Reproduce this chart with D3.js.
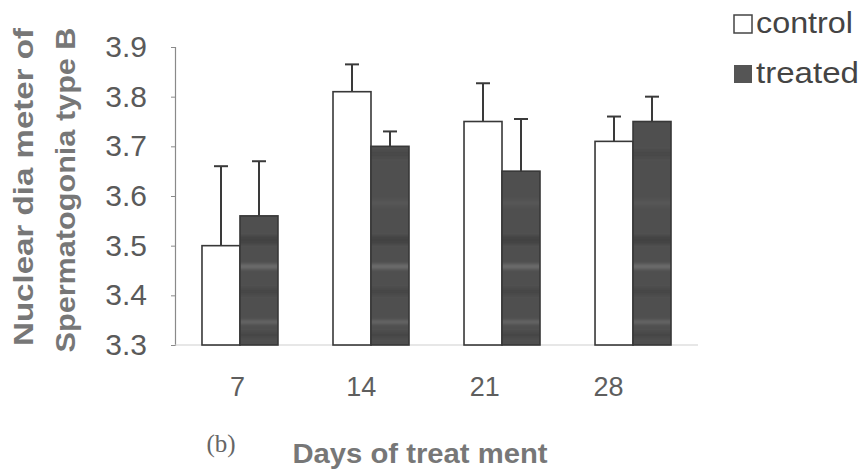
<!DOCTYPE html>
<html>
<head>
<meta charset="utf-8">
<script src="https://cdn.jsdelivr.net/npm/d3@7"></script>
<style>
  html, body { margin: 0; padding: 0; background: #ffffff; }
  svg { display: block; }
</style>
</head>
<body>
<svg id="chart" width="865" height="470"></svg>
<script>
// Nuclear diameter of spermatogonia type B over days of treatment
const days = ["7", "14", "21", "28"];
const controlMean = [3.50, 3.81, 3.75, 3.71];
const controlErr  = [0.16, 0.055, 0.077, 0.05];
const treatedMean = [3.56, 3.70, 3.65, 3.75];
const treatedErr  = [0.11, 0.03, 0.105, 0.05];
const yTicks = [3.3, 3.4, 3.5, 3.6, 3.7, 3.8, 3.9];
const seriesNames = ["control", "treated"];

const series = [
  { name: "control", mean: controlMean, err: controlErr, fill: "#ffffff" },
  { name: "treated", mean: treatedMean, err: treatedErr, fill: "url(#shade)" }
];

const svg = d3.select("#chart");
const font = "Arial, 'Liberation Sans', Helvetica, sans-serif";

// dark print tone with soft horizontal banding
const defs = svg.append("defs");
defs.append("filter").attr("id", "soft")
  .attr("x", "-5%").attr("y", "-5%").attr("width", "110%").attr("height", "110%")
  .append("feGaussianBlur").attr("stdDeviation", 1.6);
const pat = defs.append("pattern").attr("id", "shade")
  .attr("patternUnits", "userSpaceOnUse")
  .attr("x", 0).attr("y", 0).attr("width", 865).attr("height", 470);
pat.append("rect").attr("width", 865).attr("height", 470).attr("fill", "#4f4f4f");
const bands = pat.append("g").attr("filter", "url(#soft)");
[[150, 8, "#484848"], [200, 6, "#575757"], [236, 8, "#434343"], [264, 5, "#6c6c6c"],
 [288, 7, "#474747"], [320, 4, "#656565"], [332, 6, "#474747"]].forEach(([yy, h, c]) => {
  bands.append("rect").attr("x", -10).attr("y", yy).attr("width", 885).attr("height", h).attr("fill", c);
});

const y = d3.scaleLinear().domain([3.3, 3.9]).range([345, 47]);
const x0 = d3.scaleBand().domain(days).range([175, 698])
  .paddingInner(0.42).paddingOuter(0.206);
const x1 = d3.scaleBand().domain(seriesNames).range([0, x0.bandwidth()]);
// category labels sit on their own spacing under the groups
const xLab = d3.scalePoint().domain(days).range([237, 608]);

// y axis
const yAxis = d3.axisLeft(y).tickValues(yTicks).tickFormat(d3.format(".1f"))
  .tickSize(4).tickPadding(24);
const gy = svg.append("g").attr("transform", "translate(175,0)").call(yAxis);
gy.select(".domain").attr("stroke", "#8a8a8a").attr("stroke-width", 1.2);
gy.selectAll(".tick line").attr("stroke", "#8a8a8a");
gy.selectAll(".tick text").attr("fill", "#5a5a5a").attr("font-size", 30)
  .attr("font-family", font);

// faint baseline
svg.append("line")
  .attr("x1", 175).attr("x2", 698)
  .attr("y1", y(3.3)).attr("y2", y(3.3))
  .attr("stroke", "#cfcfcf").attr("stroke-width", 1);

// x category labels
const xAxis = d3.axisBottom(xLab).tickSize(0).tickPadding(0);
const gx = svg.append("g").attr("transform", "translate(0,377)").call(xAxis);
gx.select(".domain").remove();
gx.selectAll(".tick text").attr("fill", "#5e5e5e").attr("font-size", 27)
  .attr("font-family", font);

// bars
const groups = svg.append("g").selectAll("g").data(series).join("g");
groups.selectAll("rect")
  .data(s => days.map((d, i) => ({ day: d, v: s.mean[i], e: s.err[i], s })))
  .join("rect")
  .attr("x", d => x0(d.day) + x1(d.s.name))
  .attr("width", x1.bandwidth())
  .attr("y", d => y(d.v))
  .attr("height", d => y(3.3) - y(d.v))
  .attr("fill", d => d.s.fill)
  .attr("stroke", "#383838")
  .attr("stroke-width", 1.6);

// error bars (upper only)
const eb = svg.append("g").attr("stroke", "#3a3a3a").attr("stroke-width", 2);
series.forEach(s => {
  days.forEach((d, i) => {
    const cx = x0(d) + x1(s.name) + x1.bandwidth() / 2;
    eb.append("line").attr("x1", cx).attr("x2", cx)
      .attr("y1", y(s.mean[i])).attr("y2", y(s.mean[i] + s.err[i]));
    eb.append("line").attr("x1", cx - 7).attr("x2", cx + 7)
      .attr("y1", y(s.mean[i] + s.err[i])).attr("y2", y(s.mean[i] + s.err[i]));
  });
});

// axis titles
svg.append("text")
  .attr("transform", "translate(33,187) rotate(-90)")
  .attr("text-anchor", "middle")
  .attr("font-family", font).attr("font-weight", "bold")
  .attr("font-size", 28).attr("fill", "#777")
  .attr("textLength", 318).attr("lengthAdjust", "spacingAndGlyphs")
  .text("Nuclear dia meter of");
svg.append("text")
  .attr("transform", "translate(75,190) rotate(-90)")
  .attr("text-anchor", "middle")
  .attr("font-family", font).attr("font-weight", "bold")
  .attr("font-size", 28).attr("fill", "#777")
  .attr("textLength", 325).attr("lengthAdjust", "spacingAndGlyphs")
  .text("Spermatogonia type B");

svg.append("text")
  .attr("x", 420).attr("y", 463)
  .attr("text-anchor", "middle")
  .attr("font-family", font).attr("font-weight", "bold")
  .attr("font-size", 28).attr("fill", "#777")
  .attr("textLength", 255).attr("lengthAdjust", "spacingAndGlyphs")
  .text("Days of treat ment");

svg.append("text")
  .attr("x", 221).attr("y", 452)
  .attr("text-anchor", "middle")
  .attr("font-family", "'Liberation Serif', 'DejaVu Serif', serif")
  .attr("font-size", 25).attr("fill", "#666")
  .text("(b)");

// legend
const legend = svg.append("g");
series.forEach((s, i) => {
  const ly = 15 + i * 50;
  legend.append("rect")
    .attr("x", 734).attr("y", ly)
    .attr("width", 18).attr("height", 18)
    .attr("fill", s.name === "control" ? "#fff" : "#555")
    .attr("stroke", s.name === "control" ? "#444" : "none")
    .attr("stroke-width", 1.5);
  legend.append("text")
    .attr("x", 756).attr("y", ly + 18)
    .attr("font-family", font).attr("font-size", 30).attr("fill", "#444")
    .attr("textLength", s.name === "control" ? 97 : 103)
    .attr("lengthAdjust", "spacingAndGlyphs")
    .text(s.name);
});
</script>
</body>
</html>
